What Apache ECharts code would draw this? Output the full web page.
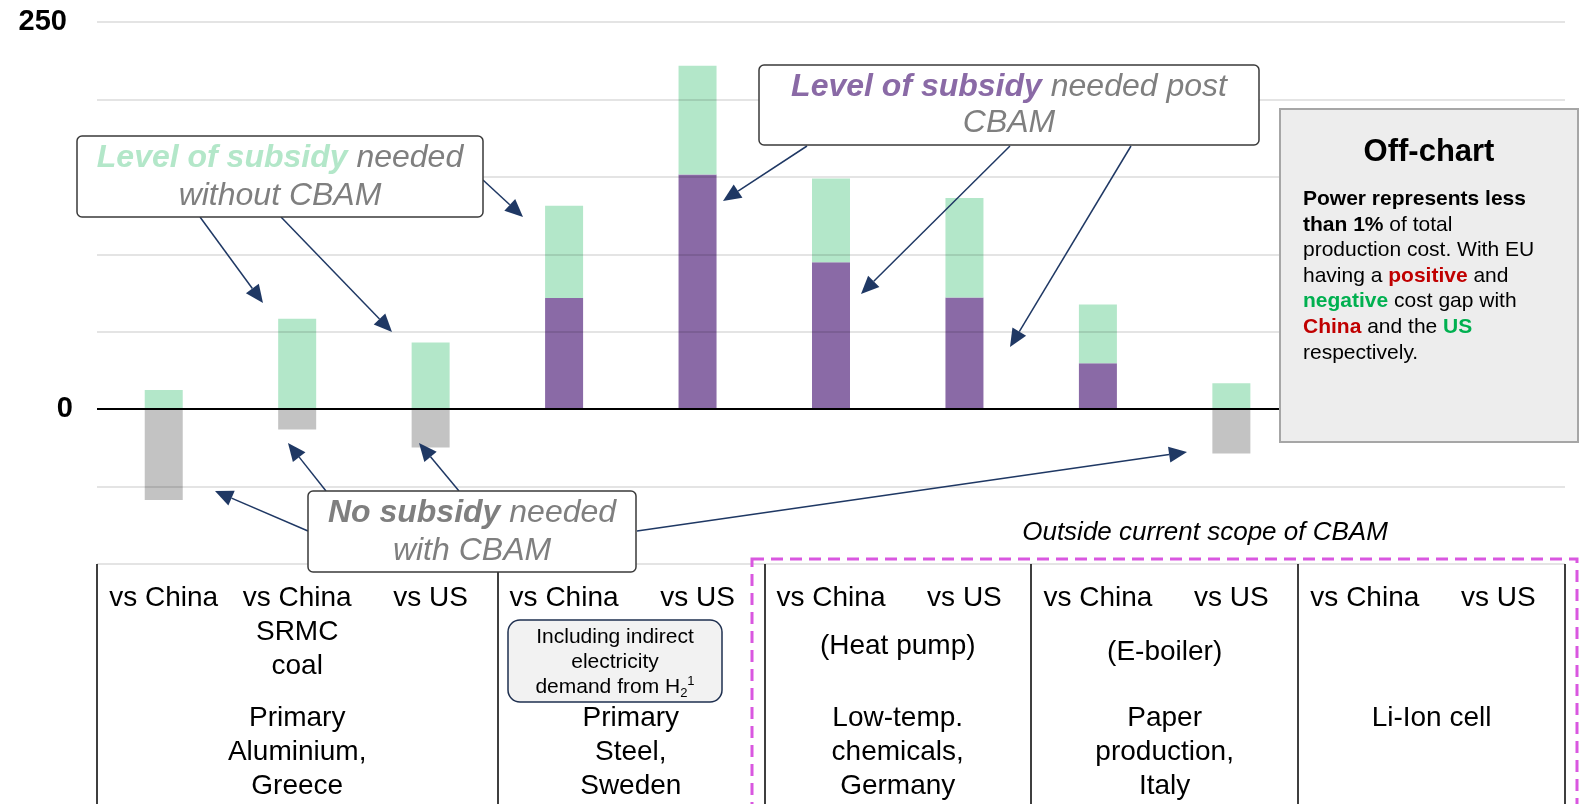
<!DOCTYPE html>
<html>
<head>
<meta charset="utf-8">
<title>Subsidy needed with and without CBAM</title>
<script src="https://cdn.jsdelivr.net/npm/echarts@6/dist/echarts.min.js"></script>
<style>
html, body { margin: 0; padding: 0; background: #fff; }
#chart { width: 1588px; height: 804px; }
</style>
</head>
<body>
<div id="chart"></div>
<script>
// categories, one per bar slot
var categories = ['vs China', 'vs China\nSRMC\ncoal', 'vs US', 'vs China', 'vs US', 'vs China', 'vs US', 'vs China', 'vs US', 'vs China', 'vs US'];
// subsidy needed without CBAM (full bar height)
var withoutCbam = [12.3, 58.3, 43, 131.4, 221.7, 148.9, 136.4, 67.6, 16.7, null, null];
// subsidy still needed post CBAM
var postCbam = [null, null, null, 71.7, 151.5, 94.8, 72.1, 29.6, null, null, null];
// no subsidy needed with CBAM (negative part)
var noSubsidy = [-58.6, -13.1, -24.7, null, null, null, null, null, -28.6, null, null];
// only these y values get a label
var yLabels = [0, 250];

// table groups under the bars
var groupNames = ['Primary\nAluminium,\nGreece', 'Primary\nSteel,\nSweden', 'Low-temp.\nchemicals,\nGermany', 'Paper\nproduction,\nItaly', 'Li-Ion cell'];
var groupStart = [0, 3, 5, 7, 9];
var groupSize = [3, 2, 2, 2, 2];
var groupNotes = ['', '', '(Heat pump)', '(E-boiler)', ''];

var FONT = 'Liberation Sans, Arial, sans-serif';
var GREEN = '#b3e7c9';
var PURPLE = '#8a6aa6';
var GREY = '#c3c3c3';
var NAVY = '#1f3864';
var TEXTGREY = '#7f7f7f';

// green part sits on top of the purple part
var greenPart = withoutCbam.map(function (v, i) {
    if (v == null) return null;
    return +(v - (postCbam[i] || 0)).toFixed(1);
});

var myChart = echarts.init(document.getElementById('chart'));

var option = {
    animation: false,
    grid: { left: 97, right: 23, top: 22, bottom: 240 },
    xAxis: {
        type: 'category',
        data: categories,
        axisLine: { show: false, onZero: false },
        axisTick: {
            show: true,
            // ticks only at the table column borders
            interval: function (index) { return groupStart.indexOf(index) >= 0; },
            length: 240,
            lineStyle: { color: '#000', width: 1.5 }
        },
        axisLabel: {
            interval: 0,
            margin: 17,
            color: '#000',
            fontFamily: FONT,
            fontSize: 28,
            lineHeight: 34
        },
        splitLine: { show: false }
    },
    yAxis: {
        type: 'value',
        min: -100,
        max: 250,
        interval: 50,
        z: 3,
        axisLine: { show: false },
        axisTick: { show: false },
        splitLine: { lineStyle: { color: 'rgba(0,0,0,0.14)', width: 1.5 } },
        axisLabel: {
            margin: 24,
            formatter: function (v) {
                if (yLabels.indexOf(v) < 0) return '';
                return v === 250 ? '{t|' + v + '}' : '{z|' + v + '}';
            },
            rich: {
                t: { fontFamily: FONT, fontWeight: 'bold', fontSize: 29, color: '#000', padding: [0, 6, 0, 0] },
                z: { fontFamily: FONT, fontWeight: 'bold', fontSize: 29, color: '#000' }
            }
        }
    },
    series: [
        {
            name: 'post CBAM',
            type: 'bar',
            stack: 'gap',
            barWidth: 38,
            data: postCbam,
            itemStyle: { color: PURPLE },
            markLine: {
                silent: true,
                symbol: 'none',
                label: { show: false },
                lineStyle: { color: '#000', width: 2, type: 'solid' },
                data: [{ yAxis: 0 }]
            }
        },
        {
            name: 'without CBAM',
            type: 'bar',
            stack: 'gap',
            barWidth: 38,
            data: greenPart,
            itemStyle: { color: GREEN }
        },
        {
            name: 'no subsidy',
            type: 'bar',
            stack: 'gap',
            barWidth: 38,
            data: noSubsidy,
            itemStyle: { color: GREY }
        }
    ]
};
myChart.setOption(option);

// 箭头
function arrow(x1, y1, x2, y2) {
    var ang = Math.atan2(y2 - y1, x2 - x1);
    var L = 18, W = 8;
    var bx = x2 - L * Math.cos(ang), by = y2 - L * Math.sin(ang);
    var px = -Math.sin(ang), py = Math.cos(ang);
    return [
        { type: 'line', z: 50, shape: { x1: x1, y1: y1, x2: bx, y2: by }, style: { stroke: NAVY, lineWidth: 1.5 } },
        { type: 'polygon', z: 50, shape: { points: [[x2, y2], [bx + px * W, by + py * W], [bx - px * W, by - py * W]] }, style: { fill: NAVY } }
    ];
}

function box(x, y, w, h, r, fill, stroke, lw) {
    return { type: 'rect', z: 60, shape: { x: x, y: y, width: w, height: h, r: r }, style: { fill: fill, stroke: stroke, lineWidth: lw } };
}

function rt(color, bold, size, lh, italic) {
    return { fill: color, color: color, fontWeight: bold ? 'bold' : 'normal', fontStyle: italic ? 'italic' : 'normal', fontSize: size, fontFamily: FONT, lineHeight: lh };
}

function label(x, y, text, opts) {
    var st = {
        text: text,
        fill: opts.fill || '#000',
        fontFamily: FONT,
        fontSize: opts.size,
        fontStyle: opts.italic ? 'italic' : 'normal',
        fontWeight: opts.bold ? 'bold' : 'normal',
        lineHeight: opts.lh,
        align: opts.align || 'center',
        textAlign: opts.align || 'center',
        verticalAlign: opts.va || 'middle',
        textVerticalAlign: opts.va || 'middle'
    };
    if (opts.rich) st.rich = opts.rich;
    return { type: 'text', z: 61, x: x, y: y, style: st };
}

var graphics = [];

// 表格文字
function catX(i) { return myChart.convertToPixel({ xAxisIndex: 0 }, i); }
var noteY = { 2: 646, 3: 652 };
for (var g = 0; g < groupNames.length; g++) {
    var cx = (catX(groupStart[g]) + catX(groupStart[g] + groupSize[g] - 1)) / 2;
    graphics.push(label(cx, 701, groupNames[g], { size: 28, lh: 34, va: 'top' }));
    if (groupNotes[g]) graphics.push(label(cx, noteY[g], groupNotes[g], { size: 28, lh: 34 }));
}

// outside scope frame
graphics.push({ type: 'rect', z: 40, shape: { x: 752, y: 559, width: 825, height: 300 }, style: { fill: null, stroke: '#d957e0', lineWidth: 3, lineDash: [12, 7] } });
graphics.push(label(1205, 533, 'Outside current scope of CBAM', { size: 26, italic: true, lh: 30 }));

// H2 note box
graphics.push(box(508, 620, 214, 82, 12, '#f2f2f2', '#1f3050', 1.5));
graphics.push(label(615, 662, 'Including indirect\nelectricity\ndemand from H{sub|2}{sup|1}', {
    size: 21, lh: 25,
    rich: {
        sub: { fontSize: 13, fontFamily: FONT, fill: '#000', color: '#000', verticalAlign: 'bottom', lineHeight: 25 },
        sup: { fontSize: 13, fontFamily: FONT, fill: '#000', color: '#000', verticalAlign: 'top', lineHeight: 25 }
    }
}));

// arrows
var arrowList = [
    [200, 217, 263, 303], [281, 217, 392, 332], [483, 180, 523, 217],
    [807, 146, 723, 201], [1010, 146, 861, 294], [1131, 146, 1010, 347],
    [308, 531, 215, 491], [326, 491, 288, 443], [459, 491, 419, 443], [637, 531, 1187, 452]
];
arrowList.forEach(function (a) { graphics = graphics.concat(arrow(a[0], a[1], a[2], a[3])); });

// annotation boxes
graphics.push(box(77, 136, 406, 81, 5, '#fff', '#3a3a3a', 1.5));
graphics.push(label(280, 177, '{a|Level of subsidy} needed\nwithout CBAM', {
    size: 32, italic: true, lh: 38.5, fill: TEXTGREY, rich: { a: rt(GREEN, true, 32, 38.5, true) }
}));
graphics.push(box(759, 65, 500, 80, 5, '#fff', '#3a3a3a', 1.5));
graphics.push(label(1009, 105, '{a|Level of subsidy} needed post\nCBAM', {
    size: 32, italic: true, lh: 36, fill: TEXTGREY, rich: { a: rt(PURPLE, true, 32, 36, true) }
}));
graphics.push(box(308, 491, 328, 81, 5, '#fff', '#3a3a3a', 1.5));
graphics.push(label(472, 532, '{a|No subsidy} needed\nwith CBAM', {
    size: 32, italic: true, lh: 38.5, fill: TEXTGREY, rich: { a: rt(TEXTGREY, true, 32, 38.5, true) }
}));

// off-chart box
graphics.push(box(1280, 109, 298, 333, 0, '#ededed', '#a6a6a6', 2));
graphics.push(label(1429, 152, 'Off-chart', { size: 31, bold: true, lh: 36 }));
graphics.push(label(1303, 186.5,
    '{b|Power represents less}\n{b|than 1%} of total\nproduction cost. With EU\nhaving a {r|positive} and\n{g|negative} cost gap with\n{r|China} and the {g|US}\nrespectively.', {
    size: 21, lh: 25.6, align: 'left', va: 'top',
    rich: {
        b: rt('#000', true, 21, 25.6),
        r: rt('#c00000', true, 21, 25.6),
        g: rt('#00b050', true, 21, 25.6)
    }
}));

myChart.setOption({ graphic: { elements: graphics } });
</script>
</body>
</html>
